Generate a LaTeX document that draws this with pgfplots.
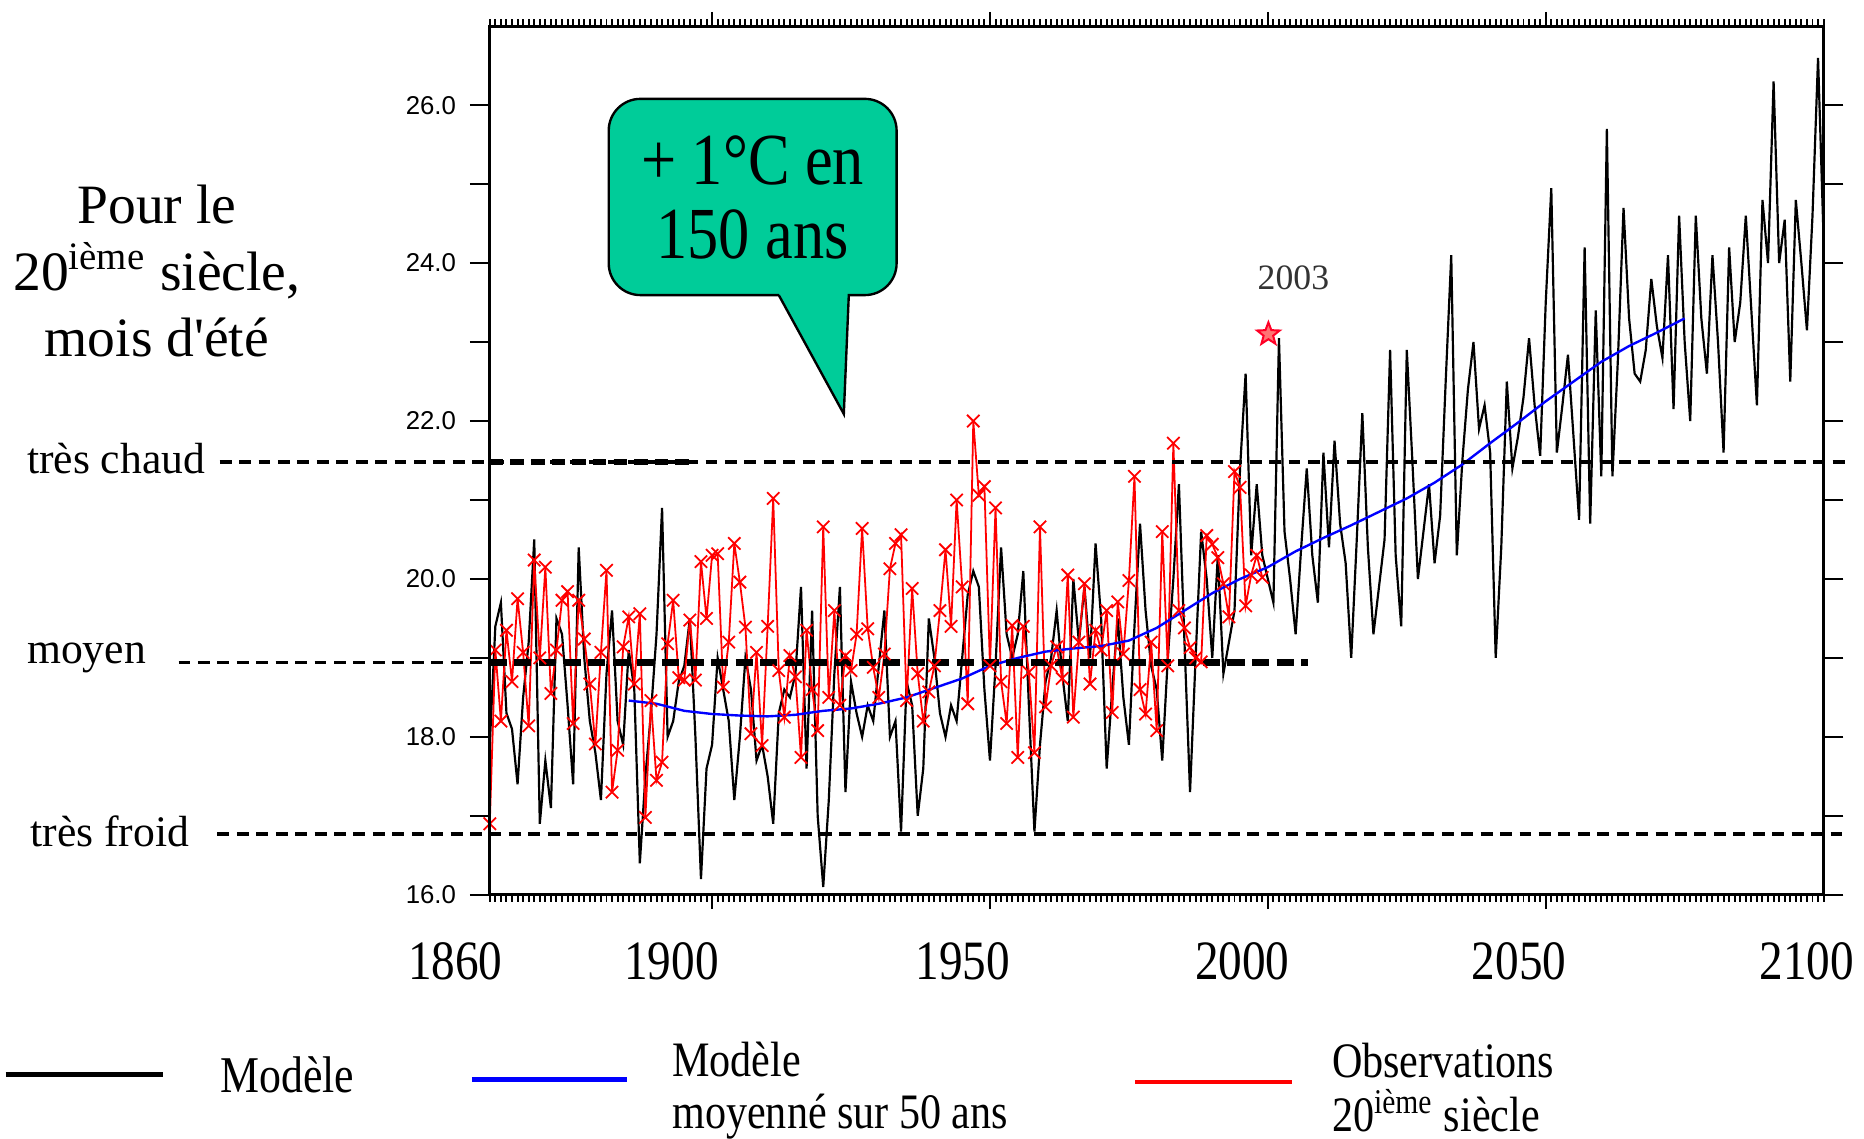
\documentclass[border=0pt]{standalone}
\usepackage{pgfplots}
\pgfplotsset{compat=1.18}
\usepackage{pgfplotstable}
\usepackage{fontspec}
\usetikzlibrary{plotmarks}
\setmainfont{Liberation Serif}
\newfontfamily\cond[FakeStretch=0.85]{Liberation Serif}
\newfontfamily\ticksans{Liberation Sans}
\definecolor{bulle}{RGB}{0,204,153}

% outlined five-point star for the 2003 point
\pgfdeclareplotmark{ostar}{%
  \pgfpathmoveto{\pgfpointpolar{90}{\pgfplotmarksize}}%
  \pgfpathlineto{\pgfpointpolar{126}{0.42\pgfplotmarksize}}%
  \pgfpathlineto{\pgfpointpolar{162}{\pgfplotmarksize}}%
  \pgfpathlineto{\pgfpointpolar{198}{0.42\pgfplotmarksize}}%
  \pgfpathlineto{\pgfpointpolar{234}{\pgfplotmarksize}}%
  \pgfpathlineto{\pgfpointpolar{270}{0.42\pgfplotmarksize}}%
  \pgfpathlineto{\pgfpointpolar{306}{\pgfplotmarksize}}%
  \pgfpathlineto{\pgfpointpolar{342}{0.42\pgfplotmarksize}}%
  \pgfpathlineto{\pgfpointpolar{18}{\pgfplotmarksize}}%
  \pgfpathlineto{\pgfpointpolar{54}{0.42\pgfplotmarksize}}%
  \pgfpathclose
  \pgfusepathqfillstroke
}

% model, summer mean temperature (black)
\pgfplotstableread{
year t
1860 17.9
1861 19.4
1862 19.7
1863 18.3
1864 18.1
1865 17.4
1866 18.5
1867 19.2
1868 20.5
1869 16.9
1870 17.7
1871 17.1
1872 19.5
1873 19.3
1874 18.4
1875 17.4
1876 20.4
1877 19.0
1878 18.2
1879 17.8
1880 17.2
1881 18.8
1882 19.6
1883 18.2
1884 17.9
1885 19.1
1886 18.6
1887 16.4
1888 17.5
1889 18.3
1890 19.3
1891 20.9
1892 18.0
1893 18.2
1894 18.7
1895 18.9
1896 19.5
1897 18.0
1898 16.2
1899 17.6
1900 17.9
1901 19.0
1902 18.6
1903 18.2
1904 17.2
1905 18.0
1906 19.0
1907 18.6
1908 17.7
1909 17.9
1910 17.5
1911 16.9
1912 18.3
1913 18.6
1914 18.5
1915 18.8
1916 19.9
1917 17.6
1918 19.6
1919 17.0
1920 16.1
1921 17.2
1922 18.8
1923 19.9
1924 17.3
1925 18.7
1926 18.3
1927 18.0
1928 18.4
1929 18.2
1930 18.9
1931 19.6
1932 18.0
1933 18.2
1934 16.8
1935 18.7
1936 18.4
1937 17.0
1938 17.6
1939 19.5
1940 19.0
1941 18.3
1942 18.0
1943 18.4
1944 18.2
1945 19.0
1946 19.8
1947 20.1
1948 19.9
1949 18.6
1950 17.7
1951 18.9
1952 20.4
1953 19.3
1954 19.0
1955 19.3
1956 20.1
1957 18.4
1958 16.8
1959 17.9
1960 18.7
1961 19.0
1962 19.6
1963 18.8
1964 18.2
1965 20.0
1966 19.2
1967 19.9
1968 19.0
1969 20.45
1970 19.5
1971 17.6
1972 18.6
1973 19.5
1974 18.5
1975 17.9
1976 19.4
1977 20.7
1978 19.6
1979 18.9
1980 18.6
1981 17.7
1982 19.0
1983 20.0
1984 21.2
1985 19.2
1986 17.3
1987 19.0
1988 20.6
1989 20.0
1990 19.0
1991 20.3
1992 18.8
1993 19.2
1994 19.6
1995 21.4
1996 22.6
1997 20.3
1998 21.2
1999 20.3
2000 20.0
2001 19.7
2002 23.05
2003 20.6
2004 20.0
2005 19.3
2006 20.4
2007 21.4
2008 20.3
2009 19.7
2010 21.6
2011 20.4
2012 21.75
2013 20.7
2014 20.2
2015 19.0
2016 20.5
2017 22.1
2018 20.4
2019 19.3
2020 19.9
2021 20.5
2022 22.9
2023 20.3
2024 19.4
2025 22.9
2026 21.5
2027 20.0
2028 20.6
2029 21.2
2030 20.2
2031 20.8
2032 22.5
2033 24.1
2034 20.3
2035 21.5
2036 22.4
2037 23.0
2038 21.9
2039 22.2
2040 21.6
2041 19.0
2042 20.4
2043 22.5
2044 21.4
2045 21.8
2046 22.3
2047 23.05
2048 22.2
2049 21.56
2050 23.5
2051 24.95
2052 21.6
2053 22.2
2054 22.84
2055 21.8
2056 20.75
2057 24.2
2058 20.7
2059 23.4
2060 21.3
2061 25.7
2062 21.3
2063 22.8
2064 24.7
2065 23.3
2066 22.6
2067 22.5
2068 22.9
2069 23.8
2070 23.2
2071 22.8
2072 24.1
2073 22.15
2074 24.6
2075 23.0
2076 22.0
2077 24.6
2078 23.3
2079 22.6
2080 24.1
2081 23.0
2082 21.6
2083 24.2
2084 23.0
2085 23.5
2086 24.6
2087 23.4
2088 22.2
2089 24.8
2090 24.0
2091 26.3
2092 24.0
2093 24.55
2094 22.5
2095 24.8
2096 24.0
2097 23.15
2098 24.6
2099 26.6
2100 24.3
}\modele

% observations, 20th century (red)
\pgfplotstableread{
year t
1860 16.9
1861 19.1
1862 18.2
1863 19.35
1864 18.7
1865 19.75
1866 19.07
1867 18.14
1868 20.24
1869 19.0
1870 20.15
1871 18.55
1872 19.1
1873 19.73
1874 19.84
1875 18.17
1876 19.73
1877 19.24
1878 18.67
1879 17.91
1880 19.07
1881 20.11
1882 17.3
1883 17.83
1884 19.14
1885 19.52
1886 18.67
1887 19.56
1888 16.98
1889 18.46
1890 17.45
1891 17.68
1892 19.18
1893 19.73
1894 18.75
1895 18.72
1896 19.48
1897 18.72
1898 20.22
1899 19.5
1900 20.3
1901 20.32
1902 18.63
1903 19.2
1904 20.45
1905 19.96
1906 19.39
1907 18.04
1908 19.07
1909 17.89
1910 19.4
1911 21.02
1912 18.84
1913 18.25
1914 19.03
1915 18.76
1916 17.74
1917 19.35
1918 18.6
1919 18.08
1920 20.66
1921 18.5
1922 19.6
1923 18.4
1924 19.03
1925 18.84
1926 19.3
1927 20.64
1928 19.37
1929 18.88
1930 18.5
1931 19.05
1932 20.13
1933 20.45
1934 20.56
1935 18.46
1936 19.88
1937 18.8
1938 18.2
1939 18.57
1940 18.9
1941 19.6
1942 20.37
1943 19.4
1944 21.0
1945 19.9
1946 18.42
1947 22.0
1948 21.06
1949 21.17
1950 18.9
1951 20.9
1952 18.7
1953 18.17
1954 19.41
1955 17.74
1956 19.4
1957 18.82
1958 17.8
1959 20.66
1960 18.38
1961 18.9
1962 19.14
1963 18.74
1964 20.05
1965 18.25
1966 19.2
1967 19.94
1968 18.67
1969 19.35
1970 19.1
1971 19.6
1972 18.31
1973 19.71
1974 19.05
1975 19.98
1976 21.3
1977 18.6
1978 18.29
1979 19.2
1980 18.08
1981 20.6
1982 18.9
1983 21.72
1984 19.6
1985 19.38
1986 19.13
1987 19.0
1988 18.95
1989 20.55
1990 20.44
1991 20.27
1992 19.94
1993 19.52
1994 21.36
1995 21.16
1996 19.66
1997 20.05
1998 20.3
1999 20.02
}\obs

% model smoothed over 50 years (blue)
\pgfplotstableread{
year t
1885 18.46
1890 18.42
1895 18.33
1900 18.29
1905 18.27
1910 18.26
1915 18.28
1920 18.33
1925 18.36
1930 18.42
1935 18.50
1940 18.62
1945 18.74
1950 18.90
1955 19.00
1960 19.08
1965 19.12
1970 19.15
1975 19.22
1980 19.38
1985 19.60
1990 19.82
1995 20.00
2000 20.15
2005 20.35
2010 20.52
2015 20.68
2020 20.85
2025 21.02
2030 21.22
2035 21.45
2040 21.72
2045 21.98
2050 22.25
2055 22.50
2060 22.75
2065 22.95
2070 23.12
2075 23.30
}\lisse

\begin{document}
\begin{tikzpicture}
\begin{axis}[
    scale only axis,
    width=336.3pt, height=219pt,
    xmin=1860, xmax=2100, ymin=16, ymax=27,
    clip=false,
    axis line style={line width=0.7pt},
    tick align=outside,
    xtick pos=both,
    xtick={1900,1950,2000,2050},
    minor xtick={1860,1861,...,2100},
    xticklabels={},
    ytick=\empty,
    major tick length=3.6pt,
    minor tick length=1.8pt,
    every tick/.style={black, line width=0.5pt},
]
\coordinate (bbsw) at (axis cs:1771.87,12.911);
\coordinate (bbne) at (axis cs:2107.27,27.332);

\addplot[black, line width=0.55pt] table[x=year, y=t] {\modele};
\addplot[red, line width=0.45pt, mark=x, mark size=2.2pt,
    mark options={solid, line width=0.45pt}] table[x=year, y=t] {\obs};
\addplot[blue, line width=0.6pt] table[x=year, y=t] {\lisse};
\addplot[only marks, mark=ostar, mark size=3pt,
    mark options={draw=red!85!magenta, fill=red!55!white, line width=0.5pt}]
    coordinates {(2000.1,23.10)};

% reference levels
\draw[black, line width=0.9pt, dash pattern=on 3pt off 1.9pt]
    (axis cs:1811.4,21.48) -- (axis cs:2104.1,21.48);
\draw[black, line width=1.4pt, dash pattern=on 3.4pt off 1.8pt]
    (axis cs:1860,21.48) -- (axis cs:1896,21.48);
\draw[black, line width=0.9pt, dash pattern=on 3pt off 1.9pt]
    (axis cs:1804.0,18.94) -- (axis cs:1860,18.94);
\draw[black, line width=1.8pt, dash pattern=on 4.3pt off 1.9pt]
    (axis cs:1860,18.94) -- (axis cs:2007.2,18.94);
\draw[black, line width=0.9pt, dash pattern=on 3pt off 1.9pt]
    (axis cs:1811.0,16.77) -- (axis cs:2104.1,16.77);

\node[anchor=west, inner sep=0pt, font=\fontsize{11}{12}\selectfont] at (axis cs:1776.6,21.52) {très chaud};
\node[anchor=west, inner sep=0pt, font=\fontsize{11}{12}\selectfont] at (axis cs:1776.6,19.00) {moyen};
\node[anchor=west, inner sep=0pt, font=\fontsize{11}{12}\selectfont] at (axis cs:1777.2,16.80) {très froid};

\node[align=center, font=\fontsize{14}{16.8}\selectfont] at (axis cs:1800.1,23.90)
    {Pour le\\20\textsuperscript{ième} siècle,\\mois d\textquotesingle été};

% speech bubble
\draw[fill=bulle, line width=0.6pt]
    (axis cs:1912.0,23.595) -- (axis cs:1923.7,22.09) -- (axis cs:1924.6,23.595)
    [rounded corners=8pt] -- (axis cs:1933.2,23.595) -- (axis cs:1933.2,26.08)
    -- (axis cs:1881.4,26.08) -- (axis cs:1881.4,23.595) -- (axis cs:1912.0,23.595);
\node[align=center, font=\cond\fontsize{18.5}{18.6}\selectfont] at (axis cs:1907.3,24.83)
    {+ 1°C en\\150 ans};

\node[text=black!80, font=\fontsize{9}{10}\selectfont] at (axis cs:2004.6,23.81) {2003};

% year labels
\node[font=\cond\fontsize{14}{15}\selectfont] at (axis cs:1853.8,15.156) {1860};
\node[font=\cond\fontsize{14}{15}\selectfont] at (axis cs:1892.7,15.156) {1900};
\node[font=\cond\fontsize{14}{15}\selectfont] at (axis cs:1945.1,15.156) {1950};
\node[font=\cond\fontsize{14}{15}\selectfont] at (axis cs:1995.4,15.156) {2000};
\node[font=\cond\fontsize{14}{15}\selectfont] at (axis cs:2045.2,15.156) {2050};
\node[font=\cond\fontsize{14}{15}\selectfont] at (axis cs:2097.0,15.156) {2100};

% legend
\draw[black, line width=1.2pt] (axis cs:1772.9,13.72) -- (axis cs:1801.2,13.72);
\node[anchor=west, inner sep=0pt, font=\cond\fontsize{13}{14}\selectfont] at (axis cs:1811.4,13.72) {Modèle};
\draw[blue, line width=1.2pt] (axis cs:1856.8,13.66) -- (axis cs:1884.6,13.66);
\node[anchor=west, inner sep=0pt, align=left, font=\cond\fontsize{12.5}{12.9}\selectfont]
    at (axis cs:1892.7,13.52) {Modèle\\moyenné sur 50 ans};
\draw[red, line width=1.2pt] (axis cs:1976.1,13.63) -- (axis cs:2004.4,13.63);
\node[anchor=west, inner sep=0pt, align=left, font=\cond\fontsize{12.5}{13.5}\selectfont]
    at (axis cs:2011.4,13.56) {Observations\\20\textsuperscript{ième} siècle};
\end{axis}

% y ticks on both sides, longer than the x ticks
\begin{axis}[
    scale only axis,
    width=336.3pt, height=219pt,
    xmin=1860, xmax=2100, ymin=16, ymax=27,
    axis line style={line width=0.7pt},
    tick align=outside,
    ytick pos=both,
    xtick=\empty,
    ytick={16,17,...,26},
    yticklabels={16.0,,18.0,,20.0,,22.0,,24.0,,26.0},
    major tick length=5pt,
    every tick/.style={black, line width=0.5pt},
    yticklabel style={font=\ticksans\fontsize{6.5}{7}\selectfont},
]
\end{axis}
\pgfresetboundingbox
\path[use as bounding box] (bbsw) rectangle (bbne);
\end{tikzpicture}
\end{document}
